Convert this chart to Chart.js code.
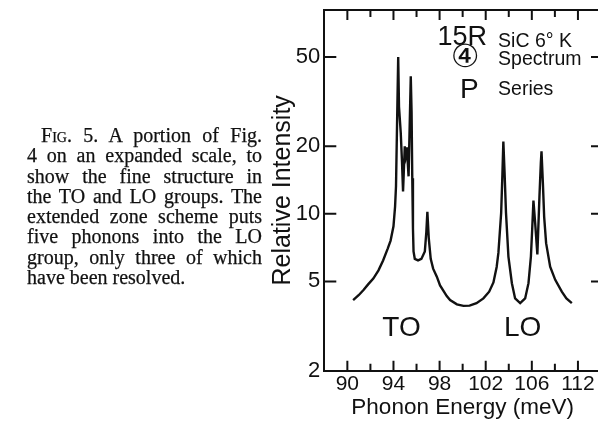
<!DOCTYPE html>
<html><head><meta charset="utf-8">
<script src="https://cdn.jsdelivr.net/npm/chart.js@4.4.0/dist/chart.umd.min.js"></script>
<style>
html,body{margin:0;padding:0;background:#fff;overflow:hidden;width:598px;height:422px;}
#c{position:absolute;left:0;top:0;width:601px;height:422px;z-index:1;}
#caption{position:absolute;left:27px;top:125px;width:235px;font-family:"Liberation Serif","Times New Roman",serif;font-size:20px;line-height:20.3px;color:#111;z-index:2;-webkit-text-stroke:0.25px #111;}
#caption div{text-align:justify;text-align-last:justify;}
#caption div.first{padding-left:14px;}
#caption div.last{text-align-last:left;}
.sc{font-variant:small-caps;}
</style></head>
<body>
<div id="caption">
<div class="first">F<span class="sc">ig</span>. 5. A portion of Fig.</div>
<div>4 on an expanded scale, to</div>
<div>show the fine structure in</div>
<div>the TO and LO groups. The</div>
<div>extended zone scheme puts</div>
<div>five phonons into the LO</div>
<div>group, only three of which</div>
<div class="last">have been resolved.</div>
</div>
<canvas id="c" width="601" height="422"></canvas>
<script>
// Phonon energy (meV) and relative intensity
const energy = [90.5, 91.0, 91.4, 91.8, 92.25, 92.7, 93.1, 93.5, 93.75, 94.0, 94.14, 94.22, 94.31, 94.41,
  94.48, 94.63, 94.74, 94.83, 94.98, 95.07, 95.16, 95.31, 95.50, 95.57, 95.63, 95.69, 95.74, 95.85,
  96.13, 96.42, 96.72, 96.85, 96.94, 97.06, 97.23, 97.44, 97.76, 98.04, 98.62, 98.91, 99.5, 100.07,
  100.6, 101.2, 101.8, 102.3, 102.67, 102.95, 103.10, 103.34, 103.45, 103.53, 103.64, 103.76, 103.97,
  104.27, 104.55, 104.99, 105.42, 105.71, 105.92, 106.03, 106.14, 106.29, 106.48, 106.66, 106.78,
  106.84, 106.96, 107.07, 107.24, 107.59, 108.03, 108.6, 109.0, 109.47];
const intensity = [4.13, 4.35, 4.58, 4.85, 5.15, 5.6, 6.2, 7.0, 7.6, 8.8, 10.8, 13.3, 25, 50,
  30, 23, 17, 12.6, 20, 18.3, 19.8, 14.7, 41, 28.6, 14.4, 8.6, 6.8, 6.3,
  6.2, 6.3, 6.8, 8.3, 10.2, 7.8, 6.3, 5.7, 5.25, 4.8, 4.3, 4.13, 3.95, 3.89,
  3.9, 4.0, 4.2, 4.5, 4.95, 5.8, 6.7, 10.1, 15.1, 21, 15.1, 10.1, 6.45,
  4.91, 4.2, 4.0, 4.2, 4.91, 6.45, 8.5, 11.46, 9.1, 6.6, 11.9, 16.8,
  19, 13.7, 9.7, 7.4, 5.82, 5.08, 4.5, 4.2, 4.0];

const xTickValues = [90, 94, 98, 102, 106, 110];
const xTickLabels = ['90', '94', '98', '102', '106', '112'];
const xMinorTicks = [92, 96, 100, 104, 108];
const yTickValues = [2, 5, 10, 20, 50];
const yTickLabels = ['2', '5', '10', '20', '50'];

const INK = '#111';
const SANS = '"Liberation Sans", Arial, sans-serif';

const framePlugin = {
  id: 'frame',
  afterDraw(chart) {
    const {ctx, chartArea: a, scales: {x, y}} = chart;
    ctx.save();
    ctx.strokeStyle = INK;
    ctx.lineWidth = 2;
    ctx.beginPath();
    ctx.moveTo(a.left - 1, a.top);
    ctx.lineTo(a.right, a.top);
    ctx.lineTo(a.right, a.bottom);
    ctx.stroke();
    const xt = (px, len) => {
      ctx.beginPath();
      ctx.moveTo(px, a.bottom); ctx.lineTo(px, a.bottom - len);
      ctx.moveTo(px, a.top); ctx.lineTo(px, a.top + len);
      ctx.stroke();
    };
    xTickValues.forEach(v => xt(x.getPixelForValue(v), 10));
    xMinorTicks.forEach(v => xt(x.getPixelForValue(v), 7));
    yTickValues.forEach(v => {
      if (v === y.min) return;
      const py = y.getPixelForValue(v);
      ctx.beginPath();
      ctx.moveTo(a.left, py); ctx.lineTo(a.left + 12, py);
      ctx.moveTo(a.right, py); ctx.lineTo(a.right - 10, py);
      ctx.stroke();
    });
    ctx.fillStyle = INK;
    ctx.textBaseline = 'alphabetic';
    const txt = (s, vx, vy, size, align, fam) => {
      ctx.font = size + 'px ' + (fam || SANS);
      ctx.textAlign = align;
      ctx.fillText(s, x.getPixelForValue(vx), y.getPixelForValue(vy));
    };
    txt('15R', 102.12, 56.7, 27, 'right');
    txt('SiC 6° K', 103.07, 55.6, 19.5, 'left');
    txt('Spectrum', 103.07, 46.2, 19.5, 'left');
    txt('P', 99.78, 32.9, 28, 'left');
    txt('Series', 103.07, 33.9, 19.5, 'left');
    txt('TO', 94.70, 2.86, 28, 'center');
    txt('LO', 105.2, 2.86, 28, 'center');
    ctx.textBaseline = 'middle';
    txt('④', 100.21, 49.4, 32, 'center', '"DejaVu Sans", "Noto Sans CJK JP", sans-serif');
    ctx.restore();
  }
};

new Chart(document.getElementById('c').getContext('2d'), {
  type: 'line',
  data: {
    datasets: [{
      data: energy.map((e, i) => ({x: e, y: intensity[i]})),
      borderColor: INK, borderWidth: 2.4, pointRadius: 0, tension: 0, fill: false
    }]
  },
  options: {
    responsive: false, animation: false, devicePixelRatio: 1,
    layout: {padding: {left: 268, top: 10, right: 0, bottom: 0}},
    plugins: {legend: {display: false}, tooltip: {enabled: false}},
    scales: {
      x: {
        type: 'linear', min: 88, max: 112,
        grid: {display: false, drawTicks: false},
        border: {display: true, color: INK, width: 2},
        afterBuildTicks: s => { s.ticks = xTickValues.map(v => ({value: v})); },
        afterFit: s => { s.height = 51.3; s.paddingLeft = 0; s.paddingRight = 0; },
        ticks: {
          autoSkip: false, maxRotation: 0, padding: 1, color: INK,
          font: {family: SANS, size: 21},
          callback: v => { const i = xTickValues.indexOf(v); return i >= 0 ? xTickLabels[i] : ''; }
        },
        title: {display: true, text: 'Phonon Energy (meV)', color: INK,
          font: {family: SANS, size: 22.5}, padding: {top: 0, bottom: 1}}
      },
      y: {
        type: 'logarithmic', min: 2, max: 81,
        grid: {display: false, drawTicks: false},
        border: {display: true, color: INK, width: 2},
        afterBuildTicks: s => { s.ticks = yTickValues.map(v => ({value: v})); },
        afterFit: s => { s.width = 56.3; s.paddingTop = 0; s.paddingBottom = 0; },
        ticks: {
          autoSkip: false, padding: 4, color: INK,
          font: {family: SANS, size: 22},
          callback: v => { const i = yTickValues.indexOf(v); return i >= 0 ? yTickLabels[i] : ''; }
        },
        title: {display: true, text: 'Relative Intensity', color: INK,
          font: {family: SANS, size: 25}, padding: {top: 0, bottom: 0}}
      }
    }
  },
  plugins: [framePlugin]
});
</script>
</body></html>
